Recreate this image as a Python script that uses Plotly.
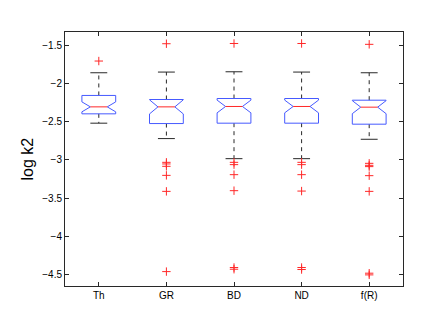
import plotly.graph_objects as go

categories = ["Th", "GR", "BD", "ND", "f(R)"]
q1 = [-2.398, -2.525, -2.520, -2.520, -2.533]
median = [-2.307, -2.307, -2.302, -2.302, -2.311]
q3 = [-2.158, -2.211, -2.198, -2.198, -2.220]
notch_half = [0.065, 0.092, 0.083, 0.083, 0.085]
whisker_lo = [-2.520, -2.721, -2.983, -2.983, -2.730]
whisker_hi = [-1.862, -1.853, -1.849, -1.853, -1.862]
outliers = [
    [-1.709],
    [-1.483, -3.031, -3.052, -3.083, -3.201, -3.410, -4.457],
    [-1.480, -3.031, -3.061, -3.192, -3.401, -4.404, -4.426],
    [-1.480, -3.031, -3.061, -3.192, -3.406, -4.404, -4.430],
    [-1.491, -3.044, -3.070, -3.087, -3.205, -3.410, -4.478, -4.500],
]
yticks = [-4.5, -4, -3.5, -3, -2.5, -2, -1.5]

BOX_W = 0.25      # half width of box
CAP_W = 0.125     # half width of whisker cap
BLUE = "rgb(70,90,255)"
RED = "rgb(255,40,40)"
BLACK = "rgb(40,40,40)"

fig = go.Figure()
for i, cat in enumerate(categories):
    c = i + 1
    nlo = max(median[i] - notch_half[i], q1[i])
    nhi = min(median[i] + notch_half[i], q3[i])
    # whiskers (dashed)
    fig.add_trace(go.Scatter(
        x=[c, c, None, c, c], y=[q3[i], whisker_hi[i], None, q1[i], whisker_lo[i]],
        mode="lines", line=dict(color=BLACK, width=1, dash="4px,4px"),
        showlegend=False, hoverinfo="skip"))
    # caps
    fig.add_trace(go.Scatter(
        x=[c - CAP_W, c + CAP_W, None, c - CAP_W, c + CAP_W],
        y=[whisker_hi[i], whisker_hi[i], None, whisker_lo[i], whisker_lo[i]],
        mode="lines", line=dict(color=BLACK, width=1),
        showlegend=False, hoverinfo="skip"))
    # notched box
    bx = [c - BOX_W, c + BOX_W, c + BOX_W, c + BOX_W / 2, c + BOX_W, c + BOX_W,
          c - BOX_W, c - BOX_W, c - BOX_W / 2, c - BOX_W, c - BOX_W]
    by = [q1[i], q1[i], nlo, median[i], nhi, q3[i],
          q3[i], nhi, median[i], nlo, q1[i]]
    fig.add_trace(go.Scatter(
        x=bx, y=by, mode="lines", line=dict(color=BLUE, width=1),
        showlegend=False, hoverinfo="skip"))
    # median
    fig.add_trace(go.Scatter(
        x=[c - BOX_W / 2, c + BOX_W / 2], y=[median[i], median[i]],
        mode="lines", line=dict(color=RED, width=1),
        showlegend=False, hoverinfo="skip"))
    # outliers
    fig.add_trace(go.Scatter(
        x=[c] * len(outliers[i]), y=outliers[i], mode="markers",
        marker=dict(symbol="cross-thin", size=6, line=dict(color=RED, width=1)),
        showlegend=False, hoverinfo="skip"))

axis_common = dict(
    showline=True, linecolor=BLACK, linewidth=1, mirror="ticks",
    ticks="inside", ticklen=4, tickcolor=BLACK, showgrid=False, zeroline=False,
    tickfont=dict(family="Liberation Sans, Arial, sans-serif", size=10, color="black"),
)
fig.update_layout(
    width=436, height=327, autosize=False,
    margin=dict(l=57, r=41, t=24, b=49),
    paper_bgcolor="white", plot_bgcolor="white",
    xaxis=dict(range=[0.5, 5.5], tickvals=list(range(1, len(categories) + 1)),
               ticktext=categories, **axis_common),
    yaxis=dict(range=[-4.645, -1.33], tickvals=yticks,
               ticktext=[("\u2212" + f"{abs(v):g}") for v in yticks], **axis_common),
    annotations=[dict(
        text="log k2", xref="paper", yref="paper", x=-0.111, y=0.5,
        textangle=-90, showarrow=False, xanchor="center", yanchor="middle",
        font=dict(family="Liberation Sans, Arial, sans-serif", size=16, color="black"))],
)
fig.write_html("out.html")
